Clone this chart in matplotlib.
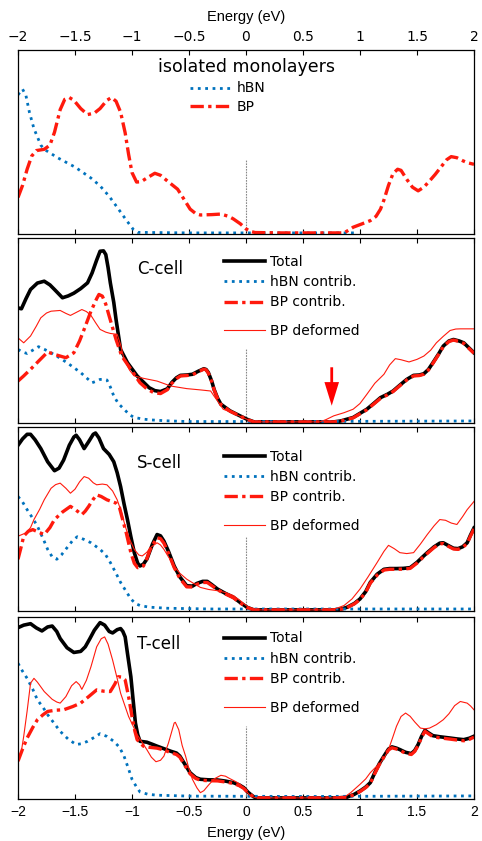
import matplotlib
matplotlib.use('Agg')
import matplotlib.pyplot as plt
from matplotlib.lines import Line2D
from matplotlib.ticker import FuncFormatter
import numpy as np

# ---- isolated monolayers ----
iso_hbn_e = [-2.0, -1.96, -1.93, -1.90, -1.86, -1.80, -1.77, -1.65, -1.50, -1.36, -1.28, -1.20, -1.13, -1.05, -0.99, -0.95, -0.5, 0.97]
iso_hbn = [0.755, 0.786, 0.75, 0.66, 0.57, 0.48, 0.457, 0.41, 0.36, 0.30, 0.257, 0.20, 0.14, 0.07, 0.02, 0.003, 0.0, 0.0]
iso_bp_e = [-2.0, -1.96, -1.92, -1.88, -1.84, -1.77, -1.72, -1.68, -1.63, -1.59, -1.55, -1.51, -1.45, -1.39, -1.33, -1.28,
            -1.22, -1.18, -1.14, -1.10, -1.06, -1.03, -1.0, -0.96, -0.92, -0.87, -0.80, -0.75, -0.69, -0.60, -0.55, -0.49,
            -0.44, -0.40, -0.30, -0.22, -0.15, -0.11, -0.05, 0.0, 0.04, 0.08, 0.30, 0.86, 0.90, 0.94, 1.02, 1.09, 1.14,
            1.18, 1.21, 1.25, 1.29, 1.33, 1.36, 1.41, 1.46, 1.51, 1.56, 1.61, 1.66, 1.71, 1.76, 1.80, 1.85, 1.90, 1.94, 2.0]
iso_bp = [0.194, 0.26, 0.348, 0.42, 0.45, 0.457, 0.48, 0.55, 0.674, 0.73, 0.74, 0.725, 0.68, 0.647, 0.655, 0.68,
          0.725, 0.74, 0.72, 0.66, 0.547, 0.43, 0.33, 0.278, 0.28, 0.30, 0.326, 0.315, 0.284, 0.239, 0.19, 0.13,
          0.105, 0.098, 0.100, 0.103, 0.09, 0.076, 0.05, 0.022, 0.008, 0.002, 0.0, 0.0, 0.015, 0.031, 0.05, 0.067, 0.09,
          0.13, 0.18, 0.26, 0.325, 0.348, 0.342, 0.293, 0.25, 0.23, 0.25, 0.284, 0.32, 0.36, 0.40, 0.417, 0.411, 0.395, 0.384, 0.375]

# ---- C-cell ----
c_tot_e = [-2.0, -1.97, -1.93, -1.89, -1.83, -1.77, -1.72, -1.68, -1.61, -1.56, -1.51, -1.45, -1.39, -1.35, -1.31, -1.28,
           -1.25, -1.23, -1.21, -1.19, -1.16, -1.14, -1.10, -1.04, -0.955, -0.85, -0.80, -0.75, -0.69, -0.65, -0.61,
           -0.575, -0.52, -0.47, -0.42, -0.37, -0.35, -0.33, -0.30, -0.28, -0.25, -0.22, -0.14, -0.06, 0.01, 0.07, 0.77,
           0.83, 0.94, 1.06, 1.12, 1.18, 1.24, 1.29, 1.35, 1.41, 1.47, 1.52, 1.56, 1.60, 1.64, 1.69, 1.73, 1.78, 1.82,
           1.87, 1.91, 1.96, 2.0]
c_tot = [0.62, 0.615, 0.67, 0.72, 0.755, 0.765, 0.745, 0.72, 0.675, 0.685, 0.70, 0.725, 0.756, 0.81, 0.88, 0.928,
         0.93, 0.91, 0.84, 0.756, 0.65, 0.557, 0.394, 0.322, 0.25, 0.186, 0.17, 0.165, 0.18, 0.215, 0.24,
         0.253, 0.255, 0.259, 0.275, 0.289, 0.285, 0.268, 0.22, 0.177, 0.13, 0.096, 0.06, 0.035, 0.014, 0.0, 0.0,
         0.005, 0.024, 0.069, 0.10, 0.132, 0.15, 0.168, 0.20, 0.231, 0.253, 0.255, 0.262, 0.285, 0.322, 0.37, 0.412,
         0.44, 0.448, 0.44, 0.43, 0.40, 0.376]
c_bp_e = [-2.0, -1.95, -1.89, -1.82, -1.74, -1.68, -1.58, -1.51, -1.46, -1.42, -1.36, -1.31, -1.29, -1.26, -1.23, -1.20,
          -1.14, -1.09, -1.01, -0.93, -0.87, -0.81, -0.75, -0.69, -0.65, -0.61, -0.575, -0.52, -0.47, -0.42, -0.37,
          -0.35, -0.33, -0.30, -0.28, -0.25, -0.22, -0.14, -0.06, 0.01, 0.07, 0.77, 0.83, 0.94, 1.06, 1.12, 1.18, 1.24,
          1.29, 1.35, 1.41, 1.47, 1.52, 1.56, 1.60, 1.64, 1.69, 1.73, 1.78, 1.82, 1.87, 1.91, 1.96, 2.0]
c_bp = [0.222, 0.25, 0.286, 0.33, 0.38, 0.367, 0.349, 0.376, 0.44, 0.503, 0.602, 0.67, 0.693, 0.684, 0.64, 0.575,
        0.448, 0.358, 0.286, 0.213, 0.18, 0.159, 0.154, 0.175, 0.21, 0.235, 0.25, 0.252, 0.256, 0.272, 0.287,
        0.283, 0.265, 0.218, 0.175, 0.128, 0.094, 0.058, 0.034, 0.013, 0.0, 0.0, 0.004, 0.022, 0.066, 0.097, 0.128, 0.147,
        0.165, 0.197, 0.228, 0.25, 0.252, 0.259, 0.282, 0.319, 0.367, 0.409, 0.437, 0.445, 0.437, 0.427, 0.397, 0.373]
c_hbn_e = [-2.0, -1.96, -1.92, -1.87, -1.82, -1.77, -1.71, -1.64, -1.57, -1.51, -1.45, -1.40, -1.35, -1.31, -1.28, -1.24,
           -1.22, -1.19, -1.16, -1.12, -1.07, -1.02, -0.98, -0.90, -0.84, -0.70, -0.52, 0.5, 1.5, 2.0]
c_hbn = [0.394, 0.38, 0.372, 0.39, 0.409, 0.395, 0.376, 0.35, 0.322, 0.295, 0.268, 0.24, 0.213, 0.222, 0.231, 0.232,
         0.228, 0.19, 0.141, 0.10, 0.069, 0.038, 0.024, 0.015, 0.011, 0.006, 0.002, 0.002, 0.004, 0.005]
c_def_e = [-2.0, -1.95, -1.89, -1.84, -1.80, -1.75, -1.71, -1.63, -1.58, -1.54, -1.49, -1.44, -1.40, -1.36, -1.32, -1.28,
           -1.23, -1.19, -1.13, -1.10, -1.07, -1.02, -0.98, -0.90, -0.78, -0.66, -0.52, -0.40, -0.31, -0.28, -0.25,
           -0.20, -0.11, -0.05, 0.01, 0.07, 0.65, 0.70, 0.77, 0.86, 0.94, 1.00, 1.06, 1.13, 1.21, 1.26, 1.31, 1.36,
           1.43, 1.50, 1.56, 1.62, 1.67, 1.73, 1.79, 1.84, 1.88, 2.0]
c_def = [0.457, 0.43, 0.467, 0.52, 0.566, 0.592, 0.602, 0.606, 0.59, 0.579, 0.595, 0.611, 0.60, 0.579, 0.54, 0.503,
         0.488, 0.481, 0.476, 0.42, 0.34, 0.28, 0.25, 0.237, 0.222, 0.195, 0.181, 0.174, 0.168, 0.14, 0.114,
         0.069, 0.047, 0.03, 0.014, 0.0, 0.0, 0.012, 0.033, 0.05, 0.069, 0.10, 0.15, 0.21, 0.259, 0.31, 0.344, 0.338,
         0.326, 0.34, 0.358, 0.39, 0.43, 0.465, 0.497, 0.505, 0.506, 0.506]

# ---- S-cell ----
s_tot_e = [-2.0, -1.96, -1.92, -1.89, -1.85, -1.80, -1.74, -1.68, -1.64, -1.60, -1.55, -1.51, -1.49, -1.46, -1.42, -1.38,
           -1.34, -1.32, -1.29, -1.25, -1.20, -1.16, -1.13, -1.10, -1.07, -1.04, -1.01, -0.98, -0.95, -0.93, -0.90,
           -0.87, -0.82, -0.78, -0.75, -0.72, -0.68, -0.63, -0.58, -0.52, -0.47, -0.43, -0.38, -0.34, -0.30, -0.25,
           -0.18, -0.11, -0.05, 0.01, 0.07, 0.77, 0.83, 0.885, 0.95, 1.0, 1.05, 1.09, 1.15, 1.21, 1.26, 1.32, 1.38,
           1.44, 1.50, 1.55, 1.59, 1.65, 1.70, 1.73, 1.78, 1.82, 1.86, 1.90, 1.94, 1.97, 2.0]
s_tot = [0.90, 0.935, 0.96, 0.96, 0.93, 0.882, 0.81, 0.761, 0.775, 0.819, 0.90, 0.945, 0.955, 0.93, 0.882, 0.92,
         0.96, 0.967, 0.94, 0.882, 0.85, 0.81, 0.75, 0.674, 0.58, 0.494, 0.40, 0.313, 0.255, 0.24, 0.25,
         0.277, 0.36, 0.412, 0.405, 0.376, 0.32, 0.24, 0.18, 0.132, 0.13, 0.145, 0.156, 0.156, 0.138, 0.114,
         0.09, 0.069, 0.04, 0.014, 0.0, 0.0, 0.004, 0.014, 0.035, 0.06, 0.10, 0.15, 0.195, 0.222, 0.226, 0.226, 0.227,
         0.231, 0.26, 0.29, 0.313, 0.345, 0.365, 0.367, 0.35, 0.337, 0.335, 0.345, 0.367, 0.41, 0.448]
s_bp_e = [-2.0, -1.97, -1.95, -1.91, -1.87, -1.82, -1.77, -1.72, -1.68, -1.61, -1.54, -1.49, -1.44, -1.41, -1.38, -1.34,
          -1.31, -1.27, -1.22, -1.14, -1.11, -1.09, -1.05, -1.01, -0.98, -0.95, -0.90, -0.87, -0.84, -0.80, -0.78,
          -0.75, -0.72, -0.68, -0.63, -0.58, -0.52, -0.47, -0.43, -0.38, -0.34, -0.30, -0.25, -0.18, -0.11, -0.05,
          0.01, 0.07, 0.77, 0.83, 0.885, 0.95, 1.0, 1.05, 1.09, 1.15, 1.21, 1.26, 1.32, 1.38, 1.44, 1.50, 1.55, 1.59,
          1.65, 1.70, 1.73, 1.78, 1.82, 1.86, 1.90, 1.94, 1.97, 2.0]
s_bp = [0.277, 0.35, 0.403, 0.43, 0.439, 0.425, 0.412, 0.45, 0.494, 0.535, 0.566, 0.545, 0.521, 0.54, 0.566, 0.605,
        0.629, 0.62, 0.602, 0.584, 0.56, 0.512, 0.42, 0.313, 0.255, 0.231, 0.24, 0.28, 0.331, 0.375, 0.394,
        0.39, 0.365, 0.31, 0.232, 0.172, 0.126, 0.125, 0.14, 0.15, 0.15, 0.133, 0.11, 0.087, 0.066, 0.038,
        0.013, 0.0, 0.0, 0.003, 0.012, 0.033, 0.057, 0.097, 0.146, 0.19, 0.218, 0.222, 0.222, 0.223, 0.227, 0.256, 0.286, 0.309,
        0.341, 0.361, 0.363, 0.346, 0.333, 0.331, 0.341, 0.363, 0.405, 0.443]
s_hbn_e = [-2.0, -1.96, -1.92, -1.87, -1.83, -1.78, -1.74, -1.70, -1.66, -1.62, -1.57, -1.52, -1.48, -1.42, -1.36, -1.28,
           -1.23, -1.19, -1.14, -1.10, -1.05, -1.01, -0.97, -0.93, -0.85, -0.69, -0.3, 2.0]
s_hbn = [0.62, 0.59, 0.548, 0.50, 0.458, 0.39, 0.331, 0.29, 0.277, 0.30, 0.34, 0.38, 0.40, 0.385, 0.367, 0.331,
         0.30, 0.259, 0.20, 0.15, 0.10, 0.06, 0.035, 0.024, 0.015, 0.009, 0.005, 0.005]
s_def_e = [-2.0, -1.93, -1.89, -1.86, -1.81, -1.77, -1.71, -1.67, -1.63, -1.58, -1.54, -1.50, -1.46, -1.42, -1.38, -1.34,
           -1.31, -1.26, -1.22, -1.17, -1.13, -1.09, -1.06, -1.02, -0.98, -0.94, -0.91, -0.87, -0.84, -0.78, -0.75,
           -0.72, -0.68, -0.63, -0.58, -0.52, -0.46, -0.40, -0.33, -0.25, -0.18, -0.11, -0.05, 0.01, 0.07, 0.74, 0.80,
           0.86, 0.93, 1.0, 1.07, 1.15, 1.21, 1.25, 1.30, 1.35, 1.41, 1.47, 1.53, 1.59, 1.65, 1.70, 1.75, 1.80, 1.85,
           1.90, 1.94, 2.0]
s_def = [0.403, 0.421, 0.45, 0.494, 0.55, 0.602, 0.665, 0.685, 0.693, 0.665, 0.638, 0.66, 0.70, 0.729, 0.72, 0.695,
         0.684, 0.688, 0.684, 0.65, 0.602, 0.53, 0.458, 0.385, 0.331, 0.30, 0.295, 0.315, 0.34, 0.367, 0.355,
         0.331, 0.29, 0.24, 0.20, 0.168, 0.145, 0.123, 0.112, 0.105, 0.095, 0.078, 0.05, 0.02, 0.0, 0.0, 0.01,
         0.024, 0.06, 0.114, 0.18, 0.259, 0.32, 0.353, 0.335, 0.313, 0.308, 0.313, 0.36, 0.412, 0.46, 0.494, 0.49, 0.475, 0.467,
         0.51, 0.548, 0.593]

# ---- T-cell ----
t_tot_e = [-2.0, -1.95, -1.89, -1.84, -1.79, -1.74, -1.70, -1.66, -1.63, -1.57, -1.51, -1.45, -1.41, -1.37, -1.33, -1.28,
           -1.24, -1.20, -1.17, -1.13, -1.10, -1.08, -1.06, -1.04, -1.01, -0.99, -0.97, -0.95, -0.93, -0.87, -0.82,
           -0.78, -0.72, -0.66, -0.61, -0.58, -0.54, -0.49, -0.44, -0.40, -0.33, -0.25, -0.18, -0.11, -0.06, -0.02,
           0.02, 0.07, 0.10, 0.80, 0.885, 0.95, 1.0, 1.05, 1.09, 1.13, 1.17, 1.21, 1.25, 1.28, 1.32, 1.35, 1.40, 1.45,
           1.48, 1.51, 1.54, 1.57, 1.60, 1.64, 1.70, 1.79, 1.85, 1.91, 1.96, 2.0]
t_tot = [0.941, 0.955, 0.963, 0.94, 0.923, 0.945, 0.95, 0.92, 0.881, 0.83, 0.804, 0.81, 0.835, 0.88, 0.927, 0.969,
         0.955, 0.92, 0.912, 0.93, 0.936, 0.92, 0.89, 0.80, 0.67, 0.54, 0.414, 0.35, 0.313, 0.308, 0.296,
         0.286, 0.272, 0.258, 0.248, 0.231, 0.19, 0.139, 0.112, 0.103, 0.10, 0.099, 0.093, 0.084, 0.072, 0.057,
         0.03, 0.005, 0.0, 0.0, 0.004, 0.02, 0.038, 0.06, 0.084, 0.14, 0.19, 0.231, 0.27, 0.282, 0.275, 0.267, 0.252, 0.245,
         0.262, 0.295, 0.34, 0.374, 0.36, 0.344, 0.338, 0.331, 0.326, 0.322, 0.33, 0.341]
t_bp_e = [-2.0, -1.96, -1.92, -1.87, -1.83, -1.78, -1.74, -1.67, -1.60, -1.52, -1.45, -1.38, -1.31, -1.25, -1.19, -1.15,
          -1.12, -1.09, -1.06, -1.03, -1.0, -0.975, -0.955, -0.9, -0.85, -0.78, -0.72, -0.66, -0.61, -0.58, -0.54,
          -0.49, -0.44, -0.40, -0.33, -0.25, -0.18, -0.11, -0.06, -0.02, 0.02, 0.07, 0.10, 0.80, 0.885, 0.95, 1.0,
          1.05, 1.09, 1.13, 1.17, 1.21, 1.25, 1.28, 1.32, 1.35, 1.40, 1.45, 1.48, 1.51, 1.54, 1.57, 1.60, 1.64, 1.70,
          1.79, 1.85, 1.91, 1.96, 2.0]
t_bp = [0.203, 0.27, 0.331, 0.39, 0.432, 0.46, 0.478, 0.485, 0.487, 0.505, 0.524, 0.56, 0.597, 0.59, 0.588, 0.63,
        0.67, 0.668, 0.652, 0.56, 0.45, 0.37, 0.322, 0.286, 0.28, 0.275, 0.265, 0.25, 0.24, 0.225, 0.183,
        0.133, 0.107, 0.098, 0.095, 0.094, 0.088, 0.08, 0.068, 0.053, 0.027, 0.004, 0.0, 0.0, 0.003, 0.018, 0.035,
        0.057, 0.08, 0.135, 0.185, 0.226, 0.265, 0.277, 0.27, 0.262, 0.247, 0.24, 0.257, 0.29, 0.335, 0.368, 0.355, 0.338, 0.332,
        0.325, 0.32, 0.316, 0.324, 0.336]
t_hbn_e = [-2.0, -1.96, -1.92, -1.87, -1.83, -1.78, -1.74, -1.68, -1.63, -1.56, -1.49, -1.44, -1.39, -1.33, -1.28, -1.22,
           -1.16, -1.11, -1.07, -1.03, -1.0, -0.96, -0.93, -0.86, -0.78, -0.5, 0.5, 2.0]
t_hbn = [0.744, 0.70, 0.661, 0.60, 0.542, 0.50, 0.46, 0.41, 0.368, 0.325, 0.295, 0.30, 0.313, 0.335, 0.355, 0.34,
         0.313, 0.28, 0.231, 0.16, 0.103, 0.06, 0.033, 0.02, 0.015, 0.01, 0.008, 0.011]
t_def_e = [-2.0, -1.97, -1.95, -1.92, -1.89, -1.86, -1.83, -1.77, -1.70, -1.66, -1.63, -1.58, -1.53, -1.49, -1.46, -1.44,
           -1.40, -1.36, -1.31, -1.27, -1.24, -1.21, -1.17, -1.13, -1.10, -1.03, -0.955, -0.87, -0.83, -0.79, -0.75,
           -0.72, -0.68, -0.65, -0.63, -0.62, -0.59, -0.56, -0.53, -0.50, -0.47, -0.43, -0.40, -0.37, -0.33, -0.28,
           -0.22, -0.18, -0.14, -0.09, -0.05, -0.01, 0.04, 0.09, 0.855, 0.92, 1.0, 1.05, 1.09, 1.13, 1.18, 1.22, 1.25,
           1.29, 1.32, 1.36, 1.40, 1.44, 1.48, 1.53, 1.57, 1.61, 1.67, 1.73, 1.78, 1.83, 1.88, 1.94, 1.97, 2.0]
t_def = [0.203, 0.26, 0.34, 0.48, 0.634, 0.661, 0.64, 0.588, 0.545, 0.53, 0.524, 0.56, 0.62, 0.643, 0.625, 0.60,
         0.65, 0.725, 0.835, 0.88, 0.89, 0.85, 0.762, 0.66, 0.579, 0.45, 0.35, 0.267, 0.225, 0.2, 0.208,
         0.231, 0.304, 0.37, 0.414, 0.418, 0.377, 0.29, 0.231, 0.16, 0.103, 0.055, 0.029, 0.04, 0.07, 0.105,
         0.125, 0.12, 0.106, 0.09, 0.075, 0.045, 0.011, 0.0, 0.0, 0.03, 0.075, 0.105, 0.139, 0.165, 0.194, 0.23, 0.267,
         0.34, 0.396, 0.45, 0.469, 0.451, 0.42, 0.386, 0.382, 0.386, 0.405, 0.432, 0.465, 0.51, 0.533, 0.524, 0.508, 0.487]

cell_names = ['C-cell', 'S-cell', 'T-cell']
cells = [
    (c_tot_e, c_tot, c_hbn_e, c_hbn, c_bp_e, c_bp, c_def_e, c_def),
    (s_tot_e, s_tot, s_hbn_e, s_hbn, s_bp_e, s_bp, s_def_e, s_def),
    (t_tot_e, t_tot, t_hbn_e, t_hbn, t_bp_e, t_bp, t_def_e, t_def),
]
label_y = [0.834, 0.805, 0.853]
leg_y = [0.761, 0.729, 0.771]
def_leg_y = [0.497, 0.461, 0.502]
arrow_e = 0.752

BLUE = '#0072BD'
RED = '#FF1A0D'
DASHDOT = [4, 1.3, 1, 1.3]
AXFONT = 'Liberation Sans'
LEGFS = 10

fmt = FuncFormatter(lambda v, p: ('%g' % v).replace('-', '\u2212'))

fig = plt.figure(figsize=(4.82, 8.41), dpi=100)
rows = [(50, 234), (238, 423), (427, 611), (617, 799)]
axes = []
for t, b in rows:
    ax = fig.add_axes([18 / 482, 1 - b / 841, 456 / 482, (b - t) / 841])
    ax.set_xlim(-2, 2)
    ax.set_ylim(-0.006, 1)
    ax.set_yticks([])
    ax.set_xticks(np.arange(-2, 2.01, 0.5))
    ax.xaxis.set_major_formatter(fmt)
    ax.tick_params(axis='x', direction='in', top=True, bottom=True, length=3.5, width=0.8,
                   labelsize=10, labelbottom=False, pad=4)
    for lab in ax.get_xticklabels():
        lab.set_fontfamily(AXFONT)
    for s in ax.spines.values():
        s.set_linewidth(0.9)
    ax.axvline(0, ymax=0.4, color='#888888', lw=0.8, ls=(0, (1.5, 1)))
    axes.append(ax)

# isolated monolayers
ax = axes[0]
ax.tick_params(axis='x', labeltop=True)
ax.xaxis.set_label_position('top')
ax.set_xlabel('Energy (eV)', fontsize=10.5, labelpad=7, family=AXFONT)
h1, = ax.plot(iso_hbn_e, iso_hbn, color=BLUE, lw=2.0, ls=':')
h2, = ax.plot(iso_bp_e, iso_bp, color=RED, lw=2.4, dashes=DASHDOT)
ax.text(0.5, 0.905, 'isolated monolayers', transform=ax.transAxes, ha='center', va='center', fontsize=12.5)
ax.legend([h1, h2], ['hBN', 'BP'], loc='center left', bbox_to_anchor=(0.378, 0.742), frameon=False,
          fontsize=LEGFS, handlelength=3.0, handletextpad=0.32, labelspacing=0.3, borderpad=0, borderaxespad=0)

for i, (ax, data) in enumerate(zip(axes[1:], cells)):
    te, tv, he, hv, be, bv, de, dv = data
    ht, = ax.plot(te, tv, color='black', lw=2.6)
    hh, = ax.plot(he, hv, color=BLUE, lw=2.0, ls=':')
    hb, = ax.plot(be, bv, color=RED, lw=2.4, dashes=DASHDOT)
    hd, = ax.plot(de, dv, color=RED, lw=0.8)
    ax.text(0.261, label_y[i], cell_names[i], transform=ax.transAxes, ha='left', va='center', fontsize=12)
    leg = ax.legend([ht, hh, hb], ['Total', 'hBN contrib.', 'BP contrib.'], loc='center left',
                    bbox_to_anchor=(0.451, leg_y[i]), frameon=False, fontsize=LEGFS, handlelength=3.0,
                    handletextpad=0.32, labelspacing=0.45, borderpad=0, borderaxespad=0)
    ax.add_artist(leg)
    ax.legend([Line2D([], [], color=RED, lw=0.8)], ['BP deformed'], loc='center left',
              bbox_to_anchor=(0.451, def_leg_y[i]), frameon=False, fontsize=LEGFS, handlelength=3.0,
              handletextpad=0.32, borderpad=0, borderaxespad=0)

# arrow in C-cell panel
axes[1].annotate('', xy=(arrow_e, 0.088), xytext=(arrow_e, 0.297),
                 arrowprops=dict(color='red', width=2.0, headwidth=10.5, headlength=17, lw=0))

axes[3].tick_params(axis='x', labelbottom=True)
for lab in axes[3].get_xticklabels():
    lab.set_fontfamily(AXFONT)
axes[3].set_xlabel('Energy (eV)', fontsize=10.5, labelpad=5, family=AXFONT)

fig.savefig('out.png', dpi=100)
